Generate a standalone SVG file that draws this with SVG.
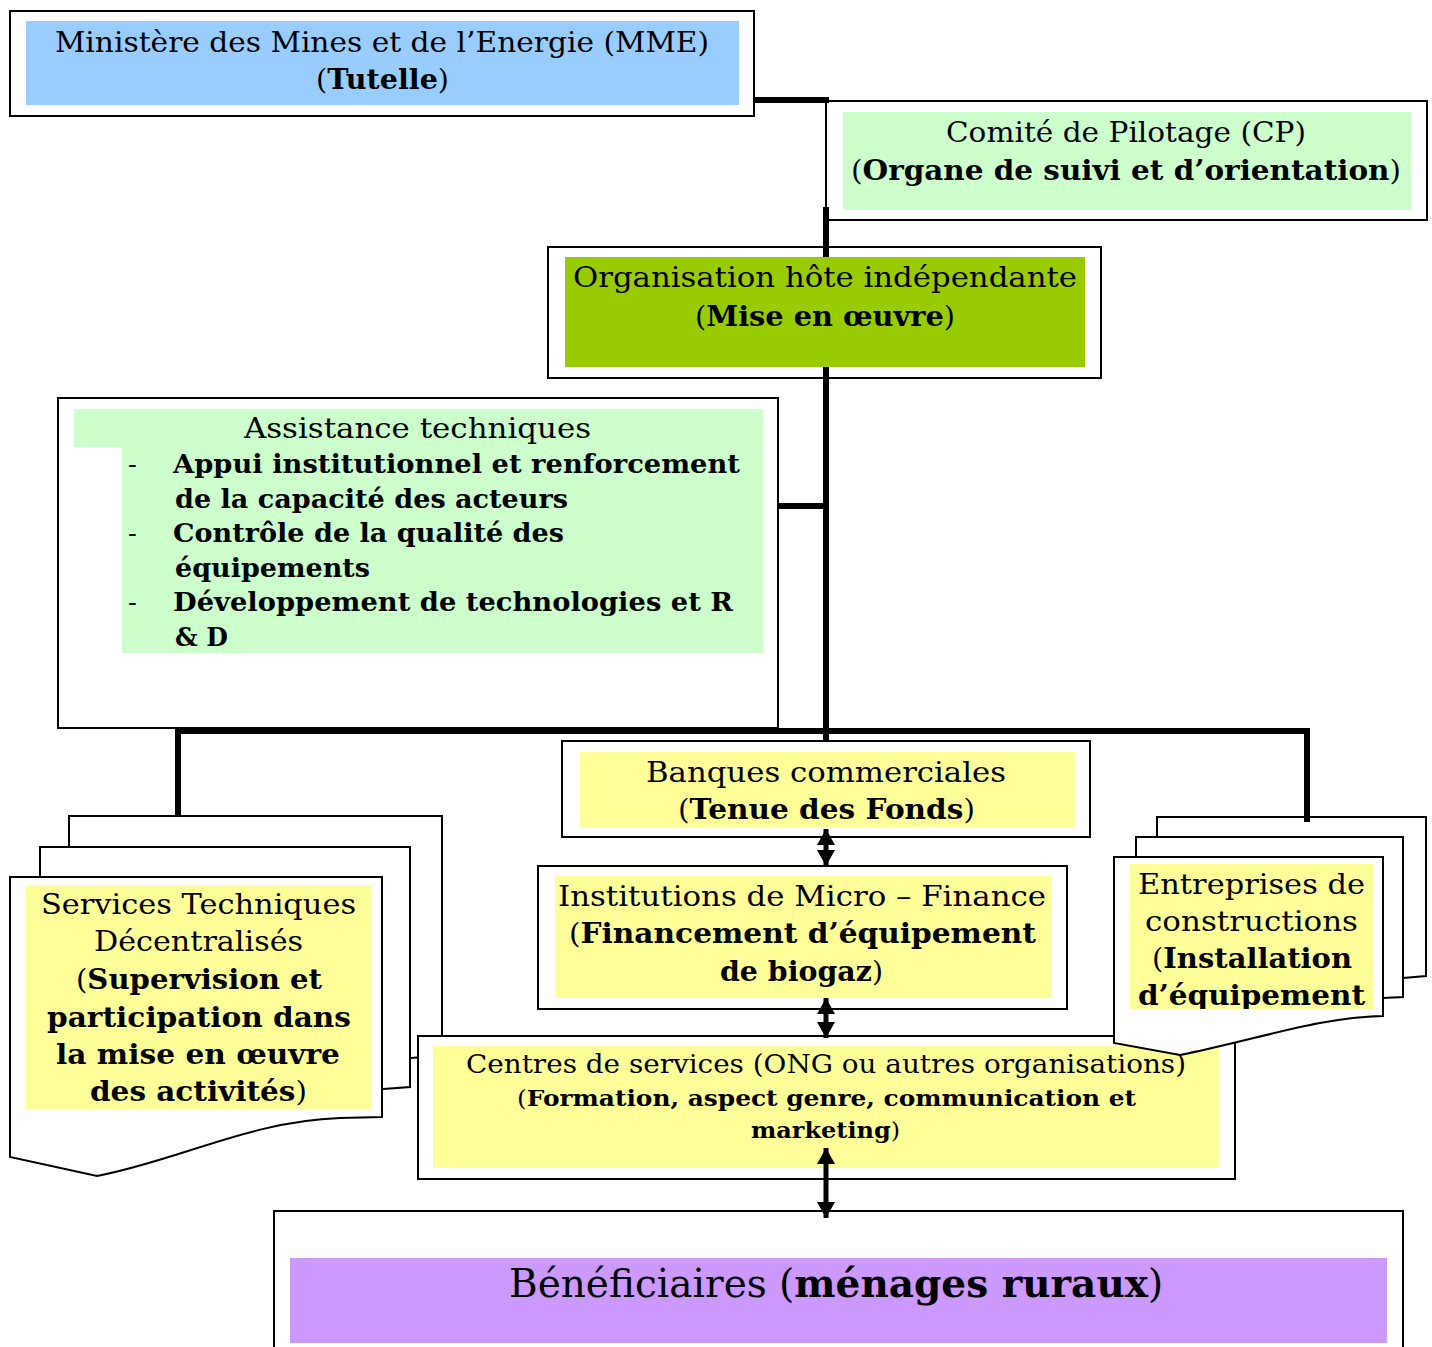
<svg xmlns="http://www.w3.org/2000/svg" width="1432" height="1347" viewBox="0 0 1432 1347">
<style>
.box{fill:#fff;stroke:#000;stroke-width:2}
.doc{fill:#fff;stroke:#000;stroke-width:2;stroke-linejoin:miter}
.t{font-family:"DejaVu Serif","Liberation Serif",serif;font-size:28px;fill:#000}
.b{font-weight:bold}
.bus{stroke:#000;stroke-width:6;fill:none}
.arr{stroke:#000;stroke-width:5;fill:none;marker-start:url(#ah);marker-end:url(#ah)}
</style>
<defs>
<marker id="ah" markerUnits="userSpaceOnUse" markerWidth="18" markerHeight="20" refX="16" refY="9" orient="auto-start-reverse" viewBox="0 0 18 18">
<path d="M0,0 L16,9 L0,18 Z" fill="#000"/>
</marker>
<clipPath id="entClip"><rect x="1130" y="864" width="243" height="145"/></clipPath>
</defs>

<g id="mme">
<rect class="box" x="10" y="11" width="744" height="105"/>
<rect x="26" y="21" width="713" height="84" fill="#99CCFF"/>
<text class="t" x="55" y="52" textLength="654" lengthAdjust="spacingAndGlyphs">Ministère des Mines et de l’Energie (MME)</text>
<text class="t" x="316" y="89" textLength="133" lengthAdjust="spacingAndGlyphs">(<tspan class="b">Tutelle</tspan>)</text>
</g>

<g id="cp">
<rect class="box" x="826" y="101" width="601" height="119"/>
<rect x="843" y="112" width="568" height="98" fill="#CCFFCC"/>
<text class="t" x="946" y="142" textLength="360" lengthAdjust="spacingAndGlyphs">Comité de Pilotage (CP)</text>
<text class="t" x="851" y="180" textLength="550" lengthAdjust="spacingAndGlyphs">(<tspan class="b">Organe de suivi et d’orientation</tspan>)</text>
</g>

<g id="org">
<rect class="box" x="548" y="247" width="553" height="131"/>
<rect x="565" y="257" width="520" height="110" fill="#99CC00"/>
<text class="t" x="573" y="287" textLength="504" lengthAdjust="spacingAndGlyphs">Organisation hôte indépendante</text>
<text class="t" x="695" y="326" textLength="260" lengthAdjust="spacingAndGlyphs">(<tspan class="b">Mise en œuvre</tspan>)</text>
</g>

<g id="assistance">
<rect class="box" x="58" y="398" width="720" height="330"/>
<path d="M74,409 H763 V653 H122 V447 H74 Z" fill="#CCFFCC"/>
<text class="t" x="244" y="438" textLength="347" lengthAdjust="spacingAndGlyphs">Assistance techniques</text>
<g class="t" style="font-size:26px">
<text x="128" y="473">-</text>
<text class="b" x="173" y="473" textLength="567" lengthAdjust="spacingAndGlyphs">Appui institutionnel et renforcement</text>
<text class="b" x="175" y="508" textLength="393" lengthAdjust="spacingAndGlyphs">de la capacité des acteurs</text>
<text x="128" y="542">-</text>
<text class="b" x="173" y="542" textLength="391" lengthAdjust="spacingAndGlyphs">Contrôle de la qualité des</text>
<text class="b" x="175" y="577" textLength="195" lengthAdjust="spacingAndGlyphs">équipements</text>
<text x="128" y="611">-</text>
<text class="b" x="173" y="611" textLength="560" lengthAdjust="spacingAndGlyphs">Développement de technologies et R</text>
<text class="b" x="175" y="646" textLength="53" lengthAdjust="spacingAndGlyphs">&amp; D</text>
</g>
</g>

<g id="services">
<path class="doc" d="M69,816 H442 V1056 L410,1058 L69,1058 Z"/>
<path class="doc" d="M40,847 H410 V1087 L383,1089 L40,1089 Z"/>
<path class="doc" d="M10,877 H382 V1117 L340,1118 C250,1121 180,1160 97,1176 L10,1157 Z"/>
<rect x="26" y="885" width="346" height="224" fill="#FFFF99"/>
<text class="t" x="41" y="914" textLength="315" lengthAdjust="spacingAndGlyphs">Services Techniques</text>
<text class="t" x="94" y="951" textLength="209" lengthAdjust="spacingAndGlyphs">Décentralisés</text>
<text class="t" x="76" y="989" textLength="246" lengthAdjust="spacingAndGlyphs">(<tspan class="b">Supervision et</tspan></text>
<text class="t b" x="47" y="1027" textLength="304" lengthAdjust="spacingAndGlyphs">participation dans</text>
<text class="t b" x="56" y="1064" textLength="284" lengthAdjust="spacingAndGlyphs">la mise en œuvre</text>
<text class="t" x="90" y="1101" textLength="217" lengthAdjust="spacingAndGlyphs"><tspan class="b">des activités</tspan>)</text>
</g>

<g id="banques">
<rect class="box" x="562" y="741" width="528" height="96"/>
<rect x="580" y="752" width="495" height="75" fill="#FFFF99"/>
<text class="t" x="646" y="782" textLength="360" lengthAdjust="spacingAndGlyphs">Banques commerciales</text>
<text class="t" x="678" y="819" textLength="297" lengthAdjust="spacingAndGlyphs">(<tspan class="b">Tenue des Fonds</tspan>)</text>
</g>

<g id="imf">
<rect class="box" x="538" y="866" width="529" height="143"/>
<rect x="555" y="876" width="497" height="122" fill="#FFFF99"/>
<text class="t" x="558" y="906" textLength="488" lengthAdjust="spacingAndGlyphs">Institutions de Micro – Finance</text>
<text class="t" x="569" y="943" textLength="467" lengthAdjust="spacingAndGlyphs">(<tspan class="b">Financement d’équipement</tspan></text>
<text class="t" x="720" y="981" textLength="163" lengthAdjust="spacingAndGlyphs"><tspan class="b">de biogaz</tspan>)</text>
</g>

<g id="centres">
<rect class="box" x="418" y="1036" width="817" height="143"/>
<rect x="433" y="1046" width="786" height="122" fill="#FFFF99"/>
<text class="t" style="font-size:26px" x="466" y="1073" textLength="720" lengthAdjust="spacingAndGlyphs">Centres de services (ONG ou autres organisations)</text>
<text class="t" style="font-size:22px" x="517" y="1106" textLength="619" lengthAdjust="spacingAndGlyphs">(<tspan class="b">Formation, aspect genre, communication et</tspan></text>
<text class="t" style="font-size:22px" x="751" y="1138" textLength="149" lengthAdjust="spacingAndGlyphs"><tspan class="b">marketing</tspan>)</text>
</g>

<g id="entreprises">
<path class="doc" d="M1157,817 H1426 V976 L1403,978 L1157,978 Z"/>
<path class="doc" d="M1136,837 H1403 V997 L1383,998 L1136,998 Z"/>
<path class="doc" d="M1114,857 H1383 V1016 C1320,1017 1255,1040 1180,1055 L1114,1043 Z"/>
<rect x="1130" y="864" width="243" height="145" fill="#FFFF99"/>
<g clip-path="url(#entClip)">
<text class="t" x="1138" y="894" textLength="227" lengthAdjust="spacingAndGlyphs">Entreprises de</text>
<text class="t" x="1145" y="931" textLength="213" lengthAdjust="spacingAndGlyphs">constructions</text>
<text class="t" x="1152" y="968" textLength="200" lengthAdjust="spacingAndGlyphs">(<tspan class="b">Installation</tspan></text>
<text class="t b" x="1138" y="1005" textLength="227" lengthAdjust="spacingAndGlyphs">d’équipement</text>
</g>
</g>

<g id="beneficiaires">
<rect class="box" x="274" y="1211" width="1129" height="150"/>
<rect x="290" y="1258" width="1097" height="85" fill="#CC99FF"/>
<text class="t" style="font-size:39px" x="509" y="1297">Bénéficiaires (<tspan class="b">ménages ruraux</tspan>)</text>
</g>

<g id="connectors">
<path class="bus" d="M754,100 H829"/>
<path class="bus" d="M826,207 V257"/>
<path class="bus" d="M826,367 V741"/>
<path class="bus" d="M778,506 H826"/>
<path class="bus" d="M178,816 V731 H1307 V822"/>
<path class="arr" d="M826,829 V866"/>
<path class="arr" d="M826,998 V1038"/>
<path class="arr" d="M826,1148 V1218"/>
</g>
</svg>
